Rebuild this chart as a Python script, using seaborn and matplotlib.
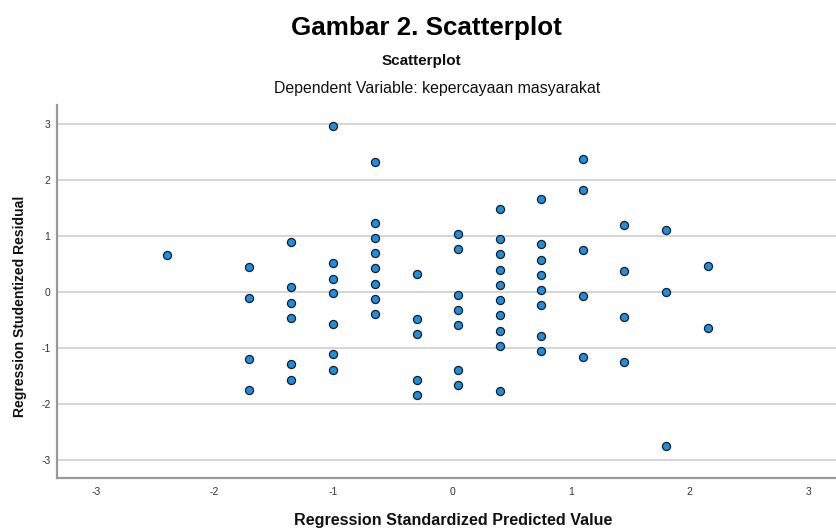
import pandas as pd
import numpy as np
import matplotlib
matplotlib.use("Agg")
import matplotlib.pyplot as plt
import seaborn as sns

#  Values (one list per column of points)

pred = [-2.40,
        -1.71, -1.71, -1.71, -1.71,
        -1.36, -1.36, -1.36, -1.36, -1.36, -1.36,
        -1.00, -1.00, -1.00, -1.00, -1.00, -1.00, -1.00,
        -0.65, -0.65, -0.65, -0.65, -0.65, -0.65, -0.65, -0.65,
        -0.30, -0.30, -0.30, -0.30, -0.30,
        0.05, 0.05, 0.05, 0.05, 0.05, 0.05, 0.05,
        0.40, 0.40, 0.40, 0.40, 0.40, 0.40, 0.40, 0.40, 0.40, 0.40,
        0.75, 0.75, 0.75, 0.75, 0.75, 0.75, 0.75, 0.75,
        1.10, 1.10, 1.10, 1.10, 1.10,
        1.45, 1.45, 1.45, 1.45,
        1.80, 1.80, 1.80,
        2.15, 2.15]

resid = [0.66,
         0.45, -0.10, -1.20, -1.75,
         0.89, 0.08, -0.20, -0.47, -1.29, -1.57,
         2.97, 0.52, 0.24, -0.02, -0.57, -1.11, -1.39,
         2.32, 1.23, 0.96, 0.69, 0.42, 0.15, -0.13, -0.39,
         0.32, -0.49, -0.76, -1.57, -1.85,
         1.04, 0.77, -0.05, -0.32, -0.59, -1.40, -1.67,
         1.48, 0.94, 0.67, 0.39, 0.13, -0.15, -0.42, -0.69, -0.96, -1.77,
         1.66, 0.85, 0.57, 0.30, 0.03, -0.24, -0.79, -1.06,
         2.38, 1.83, 0.75, -0.07, -1.16,
         1.20, 0.38, -0.44, -1.26,
         1.11, 0.00, -2.75,
         0.46, -0.65]

ticks = [-3, -2, -1, 0, 1, 2, 3]

df = pd.DataFrame({"pred": pred, "resid": resid})

sns.set_style("white")
plt.rcParams["font.family"] = ["Liberation Sans", "DejaVu Sans"]

fig = plt.figure(figsize=(8.37, 5.29), dpi=100)
ax = fig.add_axes([0.0677, 0.0958, 0.9323, 0.7057])

sns.scatterplot(data=df, x="pred", y="resid", ax=ax, s=34,
                color="#1a8fe3", edgecolor="#1c1c1c", linewidth=0.9, zorder=3)

ax.set_xlim(-3.33, 3.24)
ax.set_ylim(-3.33, 3.34)
ax.set_xticks(ticks)
ax.set_yticks(ticks)
ax.set_xticklabels([str(t) for t in ticks])
ax.set_yticklabels([str(t) for t in ticks])
ax.tick_params(length=0, labelsize=7.5, labelcolor="#333333")
ax.tick_params(axis="x", pad=6)
ax.tick_params(axis="y", pad=4.5)
ax.yaxis.grid(True, color="#d6d6d6", linewidth=1.5)
ax.xaxis.grid(False)
ax.set_axisbelow(True)
for side in ["top", "right"]:
    ax.spines[side].set_visible(False)
for side in ["left", "bottom"]:
    ax.spines[side].set_color("#999999")
    ax.spines[side].set_linewidth(1.6)

ax.set_xlabel("")
ax.set_ylabel("")

fig.text(0.51, 0.947, "Gambar 2. Scatterplot", ha="center", va="center",
         fontsize=18.7, fontweight="bold", color="black")
fig.text(0.504, 0.884, "Scatterplot", ha="center", va="center",
         fontsize=11, fontweight="bold", color="#111111")
fig.text(0.522, 0.833, "Dependent Variable: kepercayaan masyarakat", ha="center",
         va="center", fontsize=11.4, color="#111111")
fig.text(0.541, 0.017, "Regression Standardized Predicted Value", ha="center",
         va="center", fontsize=11.6, fontweight="bold", color="#111111")
fig.text(0.024, 0.42, "Regression Studentized Residual", ha="center",
         va="center", rotation=90, fontsize=10.1, fontweight="bold", color="#111111")

fig.savefig("out.png", dpi=100)
